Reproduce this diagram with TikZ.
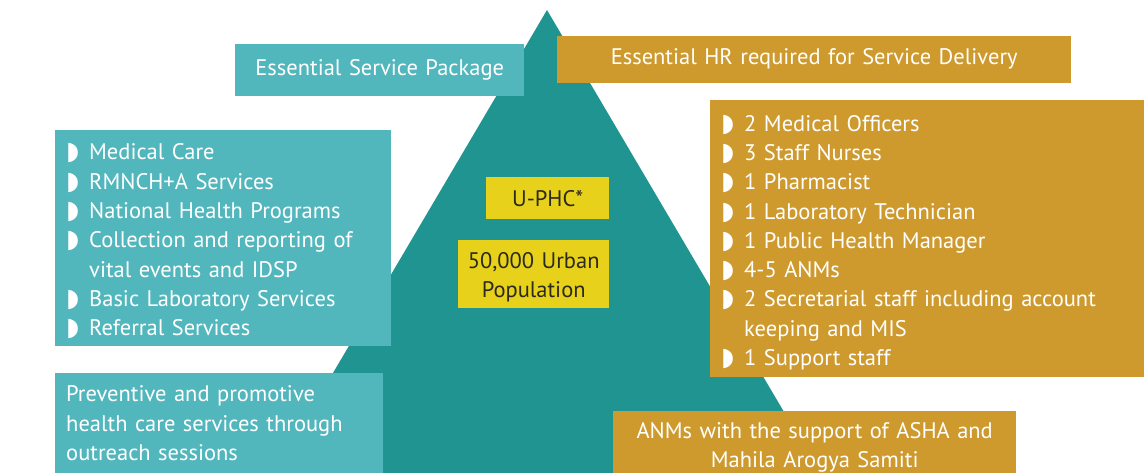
\documentclass[tikz,border=0pt]{standalone}
\usepackage{fontspec}
\setmainfont{PT Sans}
\newfontfamily\symfont{DejaVu Sans}
\usetikzlibrary{positioning}

\definecolor{pyrteal}{HTML}{1F9490}
\definecolor{boxteal}{HTML}{52B7BD}
\definecolor{boxgold}{HTML}{CE9A2E}
\definecolor{boxyellow}{HTML}{E8D11A}
\definecolor{darktext}{HTML}{2B2A1E}

% half-circle bullet and hanging list item
\newcommand{\bul}{\makebox[23pt][l]{\symfont\fontsize{25}{25}\selectfont ◗}}
\newcommand{\itm}{\par\hangindent=23pt\hangafter=1\noindent\bul}

\begin{document}
\begin{tikzpicture}[x=1pt, y=-1pt,
    box/.style={anchor=north west, inner xsep=11pt, inner ysep=0pt, text=white,
        font=\fontsize{22.5}{29.3}\selectfont},
    tealbox/.style={box, fill=boxteal},
    goldbox/.style={box, fill=boxgold},
    keybox/.style={box, inner xsep=0pt, fill=boxyellow, text=darktext, align=center}
]
    \useasboundingbox (0,0) rectangle (1144,473);

    % pyramid
    \coordinate (apex) at (547,10);
    \fill[pyrteal] (apex) -- (820,473) -- (274,473) -- cycle;

    \node[tealbox, align=center, text width=267pt, minimum height=52pt] (esp) at (235,44)
        {Essential Service Package};
    \node[goldbox, align=center, text width=492pt, minimum height=47pt] (hr) at (557,36)
        {Essential HR required for Service Delivery\rule[-6pt]{0pt}{0pt}};

    \node[tealbox, align=left, text width=314pt, minimum height=216pt] (svc) at (55,130) {%
        \itm Medical Care
        \itm RMNCH+A Services
        \itm National Health Programs
        \itm Collection and reporting of\newline vital events and IDSP
        \itm Basic Laboratory Services
        \itm Referral Services\rule[-10pt]{0pt}{0pt}\par};

    \node[goldbox, align=left, text width=412pt, minimum height=277pt] (staff) at (710,100) {%
        \itm 2 Medical Officers
        \itm 3 Staff Nurses
        \itm 1 Pharmacist
        \itm 1 Laboratory Technician
        \itm 1 Public Health Manager
        \itm 4-5 ANMs
        \itm 2 Secretarial staff including account\newline keeping and MIS
        \itm 1 Support staff\rule[-10pt]{0pt}{0pt}\par};

    \node[tealbox, align=left, text width=306pt, minimum height=100pt] (outreach) at (55,373)
        {Preventive and promotive\\health care services through\\outreach sessions};
    \node[goldbox, align=center, text width=381pt, minimum height=62pt] (asha) at (613,411)
        {\rule{0pt}{26pt}ANMs with the support of ASHA and\\Mahila Arogya Samiti};

    \node[keybox, text width=123pt, minimum height=42pt] (uphc) at (486,177) {U-PHC*};
    \node[keybox, text width=151pt, minimum height=68pt] (pop) at (458,240)
        {\rule{0pt}{22pt}50,000 Urban\\Population};
\end{tikzpicture}
\end{document}
